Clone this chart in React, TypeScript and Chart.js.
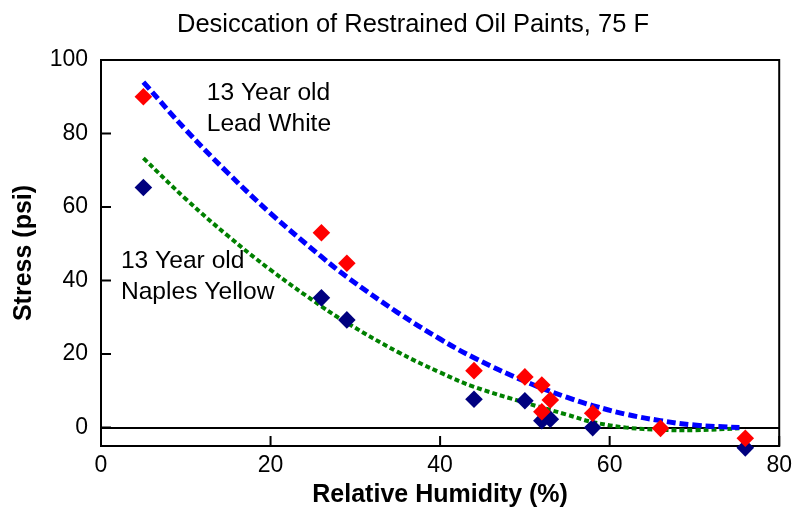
import React, { useEffect, useRef } from "react";
import { Chart, registerables } from "chart.js";

Chart.register(...registerables);

const chartTitle = "Desiccation of Restrained Oil Paints, 75 F";
const xAxisTitle = "Relative Humidity (%)";
const yAxisTitle = "Stress (psi)";

const xTickValues = [0, 20, 40, 60, 80];
const yTickValues = [0, 20, 40, 60, 80, 100];

// Measured points: 13 year old Lead White (red diamonds)
const humidityLeadWhite = [5, 26, 29, 44, 50, 52, 53, 52, 58, 66, 76];
const stressLeadWhite = [90, 53, 44.7, 15.5, 13.8, 11.6, 7.5, 4.3, 3.9, -0.2, -2.9];

// Measured points: 13 year old Naples Yellow (navy diamonds)
const humidityNaples = [5, 26, 29, 44, 50, 52, 53, 58, 76];
const stressNaples = [65.3, 35.3, 29.3, 7.7, 7.3, 1.9, 2.3, 0, -5.5];

// Trend curves
const fitHumidity = [5, 10, 15, 20, 26, 29, 35, 40, 44, 50, 55, 58, 62, 66, 70, 75.3];
const fitLeadWhite = [94, 81, 69.2, 58.3, 46.5, 41, 31.3, 24.1, 19, 12.6, 8.2, 6, 3.6, 1.9, 0.7, 0];
const fitNaples = [73.3, 62.2, 52.1, 42.9, 33, 28.5, 20.6, 15, 11.1, 6.8, 3.5, 1.5, 0, -0.6, -0.7, -0.2];

// Text annotations: [left x, baseline y] in data units
const leadWhiteLabel = ["13 Year old", "Lead White"];
const leadWhiteLabelX = 12.47;
const leadWhiteLabelY = [89.1, 80.7];
const naplesLabel = ["13 Year old", "Naples Yellow"];
const naplesLabelX = 2.35;
const naplesLabelY = [43.3, 34.9];

const FONT = "'Liberation Sans', Arial, Helvetica, sans-serif";

const toPoints = (xs: number[], ys: number[]) => xs.map((x, i) => ({ x, y: ys[i] }));

export default function App() {
  const ref = useRef<HTMLCanvasElement | null>(null);

  useEffect(() => {
    if (!ref.current) return;

    const framePlugin = {
      id: "frame",
      beforeDatasetsDraw(chart: any) {
        const { ctx, chartArea: a, scales } = chart;
        ctx.save();
        ctx.strokeStyle = "#000";
        ctx.lineWidth = 2;
        ctx.strokeRect(a.left, a.top, a.right - a.left, a.bottom - a.top);
        // inward tick marks
        ctx.beginPath();
        xTickValues.forEach((v) => {
          const px = scales.x.getPixelForValue(v);
          ctx.moveTo(px, a.bottom);
          ctx.lineTo(px, a.bottom - 10);
        });
        yTickValues.forEach((v) => {
          const py = scales.y.getPixelForValue(v);
          ctx.moveTo(a.left, py);
          ctx.lineTo(a.left + 10, py);
        });
        ctx.stroke();
        ctx.restore();
      },
      afterDraw(chart: any) {
        const { ctx, scales } = chart;
        ctx.save();
        ctx.fillStyle = "#000";
        ctx.textBaseline = "alphabetic";
        ctx.textAlign = "center";
        ctx.font = `25.5px ${FONT}`;
        ctx.fillText(chartTitle, 413, 32);
        ctx.textAlign = "left";
        ctx.font = `24.6px ${FONT}`;
        leadWhiteLabel.forEach((t, i) => {
          ctx.fillText(t, scales.x.getPixelForValue(leadWhiteLabelX), scales.y.getPixelForValue(leadWhiteLabelY[i]));
        });
        naplesLabel.forEach((t, i) => {
          ctx.fillText(t, scales.x.getPixelForValue(naplesLabelX), scales.y.getPixelForValue(naplesLabelY[i]));
        });
        ctx.restore();
      },
    };

    const chart = new Chart(ref.current, {
      type: "scatter",
      data: {
        datasets: [
          {
            label: "Lead White",
            data: toPoints(humidityLeadWhite, stressLeadWhite),
            pointStyle: "rectRot",
            pointRadius: 8.8,
            backgroundColor: "#ff0000",
            borderColor: "#ff0000",
            borderWidth: 0,
            clip: false,
          },
          {
            label: "Naples Yellow",
            data: toPoints(humidityNaples, stressNaples),
            pointStyle: "rectRot",
            pointRadius: 8.8,
            backgroundColor: "#00007f",
            borderColor: "#00007f",
            borderWidth: 0,
            clip: false,
          },
          {
            label: "Lead White fit",
            data: toPoints(fitHumidity, fitLeadWhite),
            showLine: true,
            pointRadius: 0,
            borderColor: "#0000ff",
            borderWidth: 5,
            borderDash: [9, 4],
            tension: 0.4,
            fill: false,
          },
          {
            label: "Naples Yellow fit",
            data: toPoints(fitHumidity, fitNaples),
            showLine: true,
            pointRadius: 0,
            borderColor: "#008000",
            borderWidth: 4,
            borderDash: [5, 3],
            tension: 0.4,
            fill: false,
          },
        ],
      },
      options: {
        animation: false,
        responsive: false,
        maintainAspectRatio: false,
        layout: { padding: { left: 0, right: 17, top: 60, bottom: 0 } },
        plugins: {
          legend: { display: false },
          tooltip: { enabled: false },
          title: { display: false },
        },
        scales: {
          x: {
            type: "linear",
            min: 0,
            max: 80,
            afterFit: (s: any) => {
              s.height = 70;
            },
            afterBuildTicks: (s: any) => {
              s.ticks = xTickValues.map((v) => ({ value: v }));
            },
            border: { display: false },
            grid: { display: false, drawTicks: false },
            ticks: {
              padding: 6,
              color: "#000",
              font: { family: FONT, size: 23 },
              maxRotation: 0,
            },
            title: {
              display: true,
              text: xAxisTitle,
              color: "#000",
              font: { family: FONT, size: 25, weight: "bold" },
              padding: { top: 0, bottom: 6 },
            },
          },
          y: {
            type: "linear",
            min: -5,
            max: 100,
            afterFit: (s: any) => {
              s.width = 101;
            },
            afterBuildTicks: (s: any) => {
              s.ticks = yTickValues.map((v) => ({ value: v }));
            },
            border: { display: false },
            grid: {
              drawTicks: false,
              lineWidth: 2,
              color: (c: any) => (c.tick && c.tick.value === 0 ? "#000" : "rgba(0,0,0,0)"),
            },
            ticks: {
              padding: 13,
              color: "#000",
              font: { family: FONT, size: 23 },
            },
            title: {
              display: true,
              text: yAxisTitle,
              color: "#000",
              font: { family: FONT, size: 25, weight: "bold" },
              padding: { top: 9, bottom: 0 },
            },
          },
        },
      },
      plugins: [framePlugin],
    } as any);

    return () => chart.destroy();
  }, []);

  return (
    <div style={{ position: "absolute", left: 0, top: 0, width: 798, height: 516, background: "#fff" }}>
      <canvas ref={ref} width={798} height={516} style={{ display: "block", width: 798, height: 516 }} />
    </div>
  );
}
